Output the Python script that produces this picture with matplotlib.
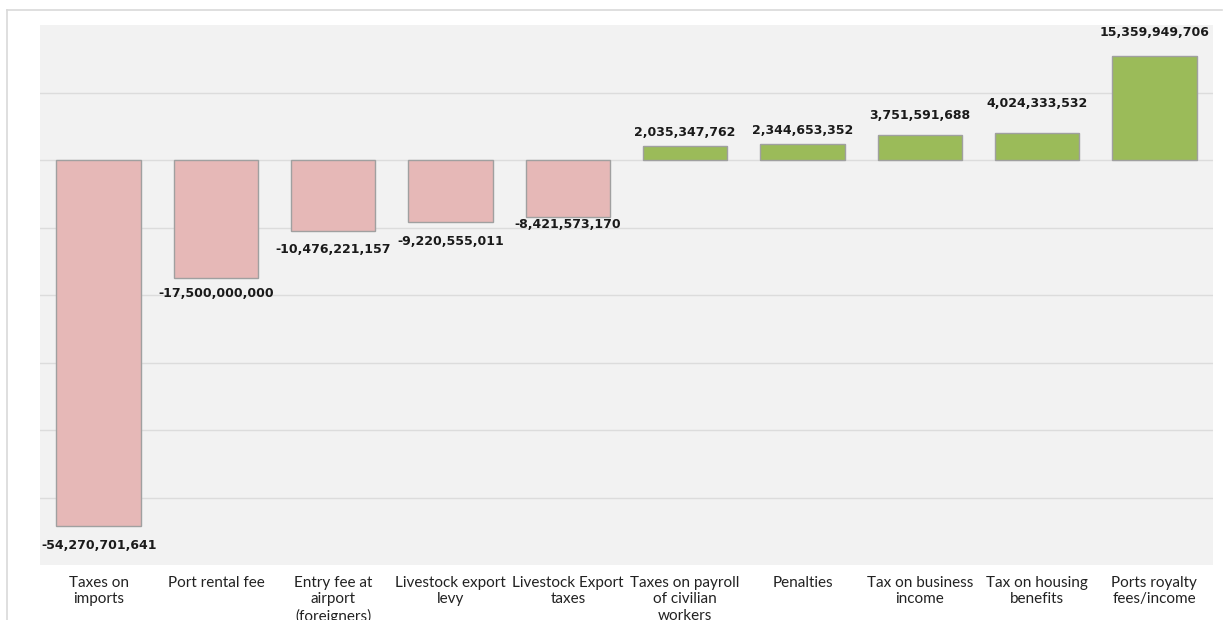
import matplotlib.pyplot as plt
from matplotlib.lines import Line2D

categories = ["Taxes on\nimports", "Port rental fee", "Entry fee at\nairport\n(foreigners)",
              "Livestock export\nlevy", "Livestock Export\ntaxes", "Taxes on payroll\nof civilian\nworkers",
              "Penalties", "Tax on business\nincome", "Tax on housing\nbenefits", "Ports royalty\nfees/income"]
values = [-54270701641, -17500000000, -10476221157, -9220555011, -8421573170,
          2035347762, 2344653352, 3751591688, 4024333532, 15359949706]

# pixel offsets of the value labels (as placed in the original)
label_offsets = [19, 15, 19, 19, 8, 14, 14, 19, 29, 24]

fig = plt.figure(figsize=(12.26, 6.2), dpi=100)
ax = fig.add_axes([40 / 1226, 1 - 565 / 620, 1173 / 1226, 540 / 620])
ax.set_facecolor("#f2f2f2")

colors = ["#e6b8b7" if v < 0 else "#9bbb59" for v in values]
x = range(len(values))
ax.bar(x, values, width=0.72, color=colors, edgecolor="#a0a0a0", linewidth=1, zorder=3)

for i, v in enumerate(values):
    off = label_offsets[i] if v > 0 else -label_offsets[i]
    ax.annotate(f"{v:,}", (i, v), xytext=(0, off), textcoords="offset pixels",
                ha="center", va="center", fontsize=9, fontweight="bold", color="#1a1a1a", zorder=4)

ax.set_xlim(-0.5, len(values) - 0.5)
ax.set_ylim(-60e9, 20e9)
ax.set_yticks([i * 10e9 for i in range(-5, 2)])
ax.yaxis.grid(True, color="#dcdcdc", linewidth=1, zorder=0)
ax.tick_params(axis="y", left=False, labelleft=False)
ax.set_xticks(list(x))
ax.set_xticklabels(categories, fontsize=11, fontfamily="Lato", color="#222222", linespacing=1.2)
ax.tick_params(axis="x", length=0, pad=8)
for s in ax.spines.values():
    s.set_visible(False)

# outer chart frame
fig.add_artist(Line2D([7 / 1226, 1222 / 1226], [1 - 10 / 620, 1 - 10 / 620], color="#d9d9d9", lw=1.2))
fig.add_artist(Line2D([7 / 1226, 7 / 1226], [0, 1 - 10 / 620], color="#d9d9d9", lw=1.2))

fig.savefig("out.png", dpi=100)
